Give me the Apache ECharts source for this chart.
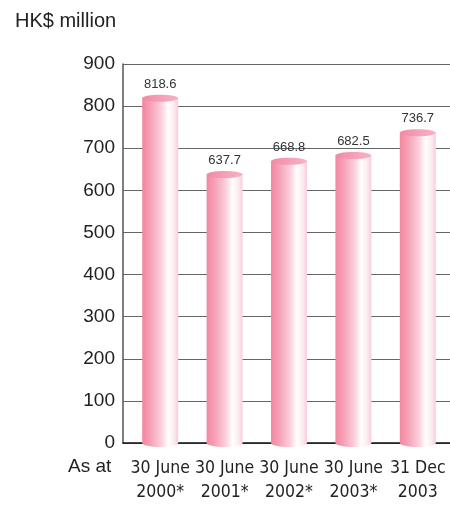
<!DOCTYPE html>
<html>
<head>
<meta charset="utf-8">
<script src="https://cdn.jsdelivr.net/npm/echarts@6/dist/echarts.min.js"></script>
<style>html,body{margin:0;padding:0;background:#fff}#c{width:450px;height:505px}</style>
</head>
<body>
<div id="c"></div>
<script>
var categories = ['30 June\n2000*', '30 June\n2001*', '30 June\n2002*', '30 June\n2003*', '31 Dec\n2003'];
var values = [818.6, 637.7, 668.8, 682.5, 736.7];
var yTicks = [0, 100, 200, 300, 400, 500, 600, 700, 800, 900];

var chart = echarts.init(document.getElementById('c'), null, {renderer: 'canvas'});
var bodyGrad = function () {
  return new echarts.graphic.LinearGradient(0, 0, 1, 0, [
    {offset: 0, color: '#f3869f'},
    {offset: 0.25, color: '#f6a4b9'},
    {offset: 0.55, color: '#fbd3de'},
    {offset: 0.72, color: '#ffffff'},
    {offset: 0.88, color: '#fdebf0'},
    {offset: 1, color: '#f9cdd9'}
  ]);
};
var option = {
  animation: false,
  title: {
    text: 'HK$ million', left: 10, top: 6,
    textStyle: {fontFamily: 'Liberation Sans', fontSize: 20, fontWeight: 'normal', color: '#222'}
  },
  graphic: [{
    type: 'text', left: 68, top: 457,
    style: {text: 'As at', font: '19px "Liberation Sans"', fill: '#222'}
  }],
  grid: [
    {left: 123, right: 0, top: 64, bottom: 62},
    {left: 128, width: 325, top: 64, bottom: 62}
  ],
  xAxis: [
    {gridIndex: 0, type: 'category', data: categories, axisLabel: {show: false}, axisTick: {show: false},
     axisLine: {lineStyle: {color: '#111', width: 1.5}}},
    {gridIndex: 1, type: 'category', data: categories, axisTick: {show: false}, axisLine: {show: false},
     axisLabel: {margin: 13, fontStyle: 'condensed', fontFamily: '"DejaVu Sans"', fontSize: 17.5, lineHeight: 24, color: '#222', interval: 0}}
  ],
  yAxis: [
    {gridIndex: 0, type: 'value', min: yTicks[0], max: yTicks[yTicks.length - 1], interval: 100,
     axisLine: {show: true, lineStyle: {color: '#555', width: 1.5}}, axisTick: {show: false},
     axisLabel: {margin: 8, fontFamily: 'Liberation Sans', fontSize: 19, color: '#222'},
     splitLine: {lineStyle: {color: '#666', width: 1}}},
    {gridIndex: 1, type: 'value', min: yTicks[0], max: yTicks[yTicks.length - 1], interval: 100, show: false, splitLine: {show: false}}
  ],
  series: [{
    type: 'custom', xAxisIndex: 1, yAxisIndex: 1,
    data: values.map(function (v, i) { return [i, v]; }),
    renderItem: function (params, api) {
      var top = api.coord([api.value(0), api.value(1)]);
      var bot = api.coord([api.value(0), 0]);
      var w = 36, x = top[0] - w / 2;
      return {
        type: 'group',
        children: [
          {type: 'ellipse', shape: {cx: top[0], cy: bot[1], rx: w / 2, ry: 4}, style: {fill: bodyGrad()}},
          {type: 'rect', shape: {x: x, y: top[1], width: w, height: bot[1] - top[1]}, style: {fill: bodyGrad()}},
          {type: 'ellipse', shape: {cx: top[0], cy: top[1], rx: w / 2, ry: 3.5},
           style: {fill: new echarts.graphic.LinearGradient(0, 0, 1, 0, [
             {offset: 0, color: '#f08aa6'}, {offset: 0.6, color: '#f6a3b9'}, {offset: 1, color: '#f7b2c4'}])}},
          {type: 'text', style: {text: api.value(1).toFixed(1), x: top[0], y: top[1] - 14,
           align: 'center', verticalAlign: 'middle', font: '13px "Liberation Sans"', fill: '#333'}}
        ]
      };
    }
  }]
};
chart.setOption(option);
</script>
</body>
</html>
